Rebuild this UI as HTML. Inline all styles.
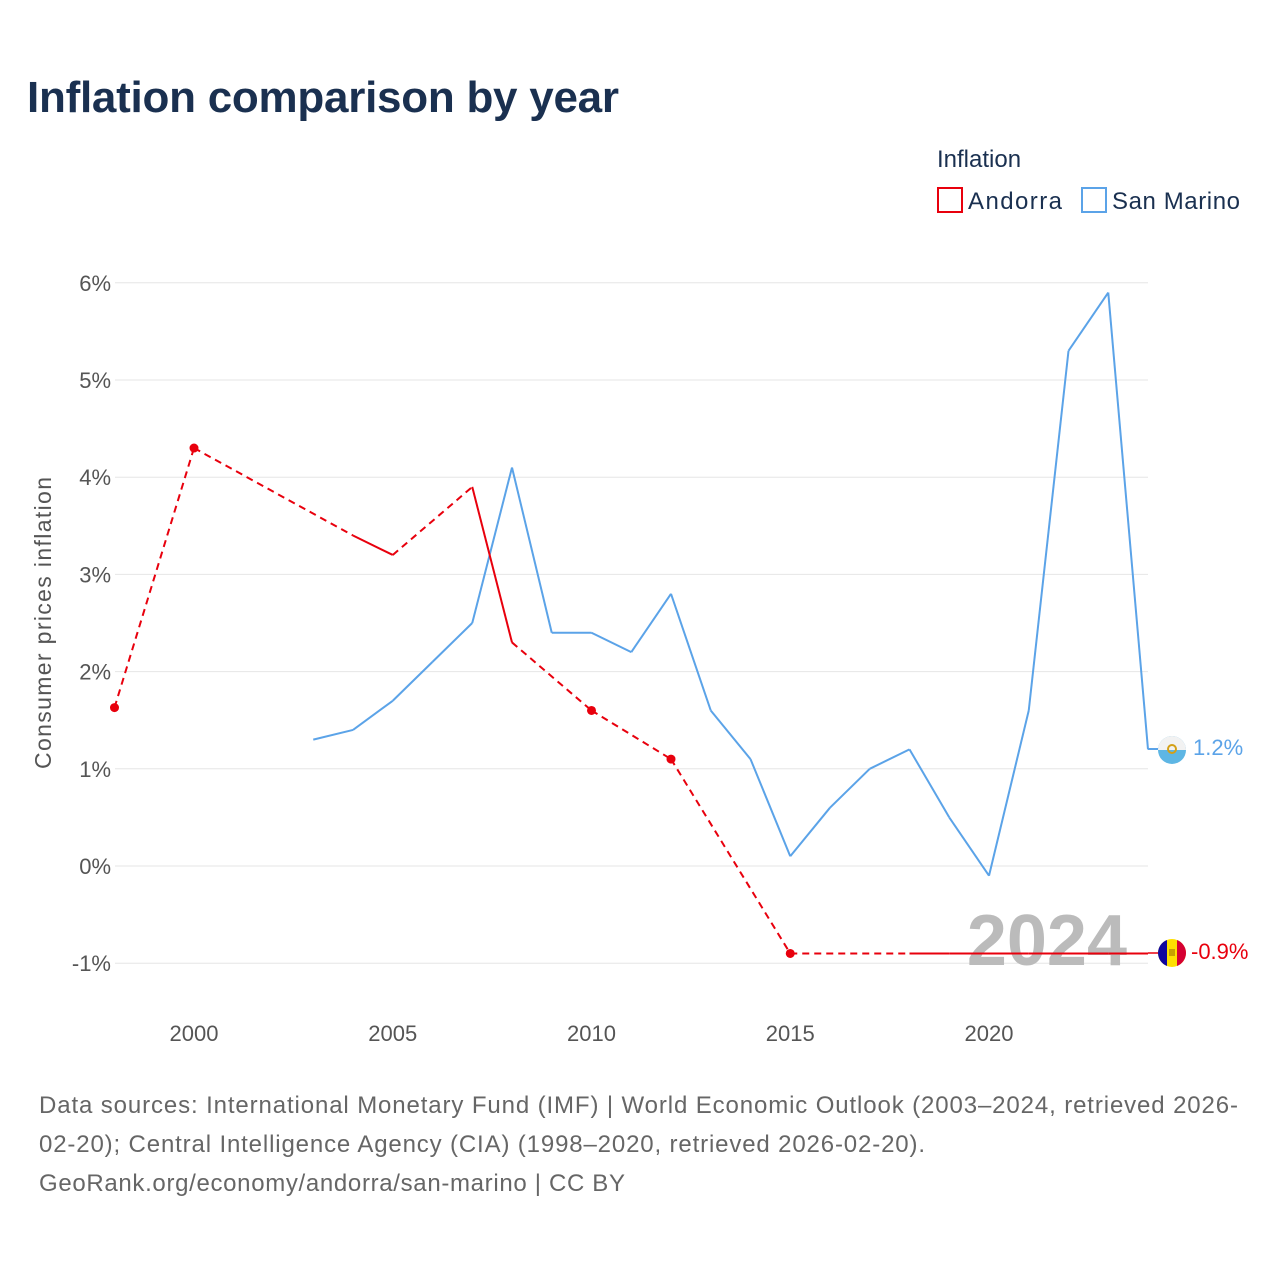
<!DOCTYPE html>
<html><head><meta charset="utf-8">
<style>
body{margin:0;background:#fff;font-family:"Liberation Sans",sans-serif;}
svg text{font-family:"Liberation Sans",sans-serif;}
</style></head>
<body>
<svg width="1280" height="1280" viewBox="0 0 1280 1280">
<text x="27" y="112" font-size="44" font-weight="bold" fill="#1a3050" textLength="592">Inflation comparison by year</text>
<text x="937" y="167" font-size="24" fill="#1a3050">Inflation</text>
<g><rect x="938" y="188" width="24" height="24" fill="none" stroke="#e8000d" stroke-width="2"/><text x="968" y="209" font-size="24" fill="#1a3050" textLength="94">Andorra</text></g>
<g><rect x="1082" y="188" width="24" height="24" fill="none" stroke="#5ba3e8" stroke-width="2"/><text x="1112" y="209" font-size="24" fill="#1a3050" textLength="128">San Marino</text></g>
<g id="grid"></g><g id="xt"></g>
<text transform="translate(51,623) rotate(-90)" text-anchor="middle" font-size="23" fill="#555" textLength="292">Consumer prices inflation</text>
<text x="1127" y="965" text-anchor="end" font-size="72" font-weight="bold" fill="#bbb">2024</text>
<g id="marks"></g>
<line x1="1148" y1="749" x2="1160" y2="749" stroke="#5ba3e8" stroke-width="2"/>
<line x1="1148" y1="953" x2="1160" y2="953" stroke="#e8000d" stroke-width="1.5"/>
<g><circle cx="1172" cy="953" r="14" fill="#fedf00"/><path d="M1158,953 A14,14 0 0 1 1167,940 L1167,966 A14,14 0 0 1 1158,953Z" fill="#10069f"/><path d="M1186,953 A14,14 0 0 0 1177,940 L1177,966 A14,14 0 0 0 1186,953Z" fill="#d50032"/><rect x="1169" y="949" width="6" height="7" fill="#c7a000"/></g>
<g><circle cx="1172" cy="750" r="14" fill="#5eb6e4"/><path d="M1158,750 A14,14 0 0 1 1186,750Z" fill="#f2f2f2"/><circle cx="1172" cy="749" r="4" fill="none" stroke="#d4a017" stroke-width="2"/></g>
<text x="1193" y="755" font-size="22" fill="#5ba3e8">1.2%</text>
<text x="1191" y="959" font-size="22" fill="#e8000d">-0.9%</text>
<g font-size="24" fill="#666">
<text x="39" y="1113" textLength="1199">Data sources: International Monetary Fund (IMF) | World Economic Outlook (2003–2024, retrieved 2026-</text>
<text x="39" y="1152" textLength="886">02-20); Central Intelligence Agency (CIA) (1998–2020, retrieved 2026-02-20).</text>
<text x="39" y="1191" textLength="586">GeoRank.org/economy/andorra/san-marino | CC BY</text>
</g>
</svg>
<script>
const yTicks=[-1,0,1,2,3,4,5,6];
const xTicks=[2000,2005,2010,2015,2020];
const andYears=[1998,2000,2004,2005,2007,2008,2010,2012,2015,2018,2019,2020,2021,2022,2023,2024];
const andVals=[1.63,4.3,3.4,3.2,3.9,2.3,1.6,1.1,-0.9,-0.9,-0.9,-0.9,-0.9,-0.9,-0.9,-0.9];
const smYears=[2003,2004,2005,2006,2007,2008,2009,2010,2011,2012,2013,2014,2015,2016,2017,2018,2019,2020,2021,2022,2023,2024];
const smVals=[1.3,1.4,1.7,2.1,2.5,4.1,2.4,2.4,2.2,2.8,1.6,1.1,0.1,0.6,1.0,1.2,0.5,-0.1,1.6,5.3,5.9,1.2];
const X=y=>194+(y-2000)*39.75, Y=v=>866-v*97.2;
const NS='http://www.w3.org/2000/svg';
function mk(t,a,p){const e=document.createElementNS(NS,t);for(const k in a)e.setAttribute(k,a[k]);p.appendChild(e);return e;}
const g=document.getElementById('grid'),xt=document.getElementById('xt'),m=document.getElementById('marks');
yTicks.forEach(v=>{const l=mk('line',{x1:115,x2:1148,y1:Y(v),y2:Y(v),stroke:'#e6e6e6','stroke-width':1},g);


const t=mk('text',{x:111,y:Y(v)+8,'text-anchor':'end','font-size':22,fill:'#555'},g);t.textContent=v+'%';

});
xTicks.forEach(v=>{const t=mk('text',{x:X(v),y:1041,'text-anchor':'middle','font-size':22,fill:'#555'},xt);t.textContent=v;

});
function series(ys,vs,col,name){
for(let i=0;i<ys.length-1;i++){const dashed=ys[i+1]-ys[i]>1;
const l=mk('line',{x1:X(ys[i]),y1:Y(vs[i]),x2:X(ys[i+1]),y2:Y(vs[i+1]),stroke:col,'stroke-width':2,'stroke-dasharray':dashed?'7,5':'none'},m);

}
for(let i=0;i<ys.length;i++){const pg=i==0||ys[i]-ys[i-1]>1, ng=i==ys.length-1||ys[i+1]-ys[i]>1;
if(pg&&ng){const c=mk('circle',{cx:X(ys[i]),cy:Y(vs[i]),r:4.5,fill:col},m);

}}}
series(smYears,smVals,'#5ba3e8','san-marino');
series(andYears,andVals,'#e8000d','andorra');
</script>
</body></html>
